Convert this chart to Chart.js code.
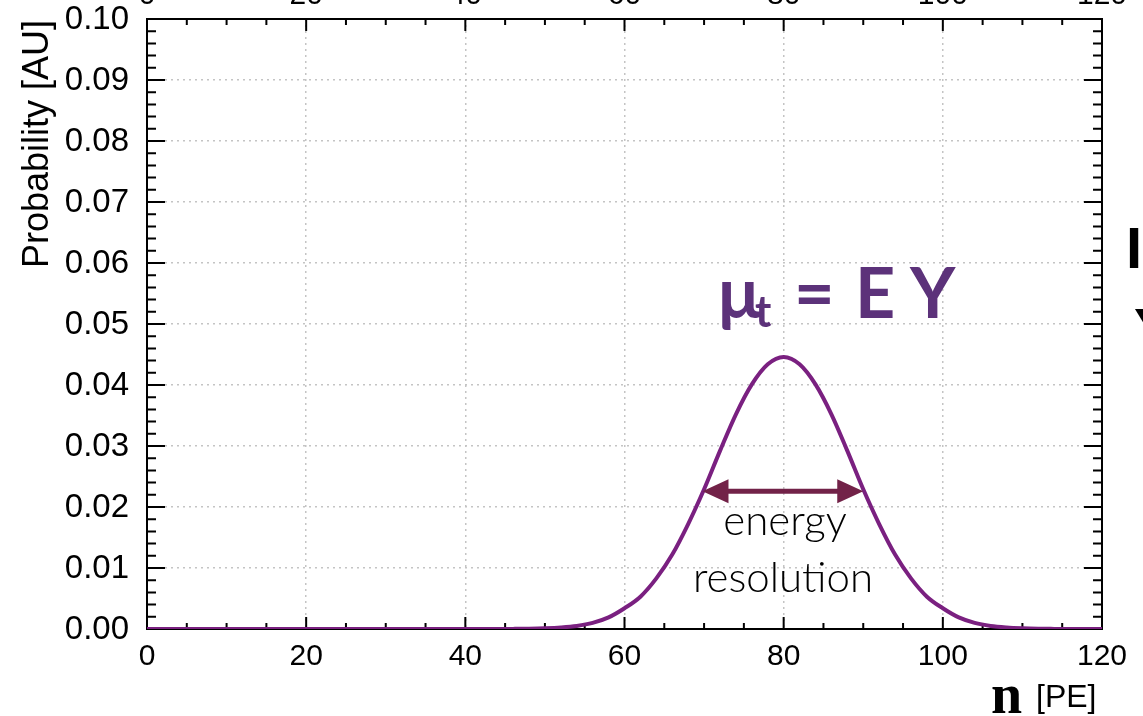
<!DOCTYPE html>
<html>
<head>
<meta charset="utf-8">
<script src="https://cdn.jsdelivr.net/npm/chart.js@4"></script>
<style>
  body { margin: 0; background: #fff; }
  canvas { display: block; }
</style>
</head>
<body>
<canvas id="myChart" width="1143" height="716"></canvas>
<script>
// values
const nValues = [0, 10, 20, 30, 36, 40, 44, 46, 48, 50, 52, 54, 56, 58, 60, 62, 64, 66, 68, 70, 72, 74, 76, 78,
  80, 82, 84, 86, 88, 90, 92, 94, 96, 98, 100, 102, 104, 106, 108, 110, 112, 114, 116, 120];
const probValues = [0, 0, 0, 0, 0, 0, 0.00001, 0.00002, 0.00005, 0.00012, 0.00025, 0.0005, 0.0010, 0.0019, 0.0034,
  0.0053, 0.0083, 0.0122, 0.0172, 0.0229, 0.0292, 0.0352, 0.0401, 0.0434,
  0.0446, 0.0434, 0.0401, 0.0352, 0.0292, 0.0229, 0.0172, 0.0122, 0.0083, 0.0053,
  0.0034, 0.0019, 0.0010, 0.0005, 0.00025, 0.00012, 0.00005, 0.00002, 0, 0];
const xTickLabels = ['0', '20', '40', '60', '80', '100', '120'];
const yTickLabels = ['0.00', '0.01', '0.02', '0.03', '0.04', '0.05', '0.06', '0.07', '0.08', '0.09', '0.10'];

// annotation arrow in data units
const arrowFrom = 69.8;
const arrowTo = 90.0;
const arrowLevel = 0.0226;

const purpleLine = '#7a2080';
const purpleText = '#5c327a';
const arrowColor = '#722248';

Chart.defaults.font.family = "'Liberation Sans', Arial, sans-serif";
Chart.defaults.color = '#000';

// frame + inward ticks, drawn under the curve
const framePlugin = {
  id: 'frame',
  beforeDatasetsDraw(chart) {
    const { ctx, chartArea: a, scales: { x, y } } = chart;
    ctx.save();
    ctx.strokeStyle = '#000';
    ctx.lineWidth = 2;
    ctx.strokeRect(a.left, a.top, a.right - a.left, a.bottom - a.top);

    ctx.beginPath();
    for (let v = 0; v <= 120; v += 5) {
      const px = x.getPixelForValue(v);
      const len = v % 20 === 0 ? 12 : 6;
      ctx.moveTo(px, a.bottom); ctx.lineTo(px, a.bottom - len);
      ctx.moveTo(px, a.top); ctx.lineTo(px, a.top + len);
    }
    for (let i = 0; i <= 50; i++) {
      const py = y.getPixelForValue(i * 0.002);
      const len = i % 5 === 0 ? 18 : 9;
      ctx.moveTo(a.left, py); ctx.lineTo(a.left + len, py);
      ctx.moveTo(a.right, py); ctx.lineTo(a.right - len, py);
    }
    ctx.stroke();
    ctx.restore();
  },
  afterDraw(chart) {
    const { ctx, chartArea: a, scales: { x, y } } = chart;
    ctx.save();
    ctx.fillStyle = '#000';

    // y tick labels
    ctx.font = "33px 'Liberation Sans'";
    ctx.textAlign = 'right';
    ctx.textBaseline = 'middle';
    yTickLabels.forEach(t => ctx.fillText(t, a.left - 18, y.getPixelForValue(Number(t)) + 1));

    // cut-off labels of an axis above the picture
    ctx.font = "30px 'Liberation Sans'";
    ctx.textAlign = 'center';
    ctx.textBaseline = 'alphabetic';
    xTickLabels.forEach(t => ctx.fillText(t, x.getPixelForValue(Number(t)), 4));

    // y axis title
    ctx.save();
    ctx.translate(48, 268);
    ctx.rotate(-Math.PI / 2);
    ctx.textAlign = 'left';
    ctx.font = "36px 'Liberation Sans'";
    ctx.fillText('Probability [AU]', 0, 0);
    ctx.restore();

    // x axis title
    ctx.textAlign = 'left';
    ctx.font = "bold 56px 'Liberation Serif'";
    ctx.fillText('n', 991, 713);
    ctx.font = "32px 'Liberation Sans'";
    ctx.fillText('[PE]', 1036, 707);

    // mu_t = E Y
    ctx.fillStyle = purpleText;
    ctx.font = "bold 70px Lato";
    ctx.fillText('\u03bc', 718, 318);
    ctx.font = "bold 44px Lato";
    ctx.fillText('t', 755, 327);
    ctx.font = "bold 70px Lato";
    ctx.fillText('=', 794, 318);
    ctx.fillText('E', 855, 318);
    ctx.fillText('Y', 910, 318);

    // energy resolution arrow
    const x1 = x.getPixelForValue(arrowFrom);
    const x2 = x.getPixelForValue(arrowTo);
    const ya = y.getPixelForValue(arrowLevel);
    ctx.fillStyle = arrowColor;
    ctx.strokeStyle = arrowColor;
    ctx.lineWidth = 5;
    ctx.beginPath();
    ctx.moveTo(x1 + 20, ya); ctx.lineTo(x2 - 20, ya);
    ctx.stroke();
    ctx.beginPath();
    ctx.moveTo(x1, ya); ctx.lineTo(x1 + 26, ya - 12); ctx.lineTo(x1 + 26, ya + 12); ctx.closePath();
    ctx.moveTo(x2, ya); ctx.lineTo(x2 - 26, ya - 12); ctx.lineTo(x2 - 26, ya + 12); ctx.closePath();
    ctx.fill();

    ctx.fillStyle = '#000';
    ctx.textAlign = 'center';
    ctx.font = "300 42px Lato";
    ctx.fillText('energy', 785, 535);
    ctx.fillText('resolution', 783, 592);

    // text cut off at the right edge
    ctx.textAlign = 'left';
    ctx.font = "bold 58px 'Liberation Sans'";
    ctx.fillText('I', 1126, 268);
    ctx.fillText('Y', 1134, 349);

    ctx.restore();
  }
};

const ctx = document.getElementById('myChart').getContext('2d');
const myChart = new Chart(ctx, {
  type: 'line',
  data: {
    datasets: [{
      data: nValues.map((n, i) => ({ x: n, y: probValues[i] })),
      borderColor: purpleLine,
      borderWidth: 4,
      pointRadius: 0,
      cubicInterpolationMode: 'monotone',
      fill: false
    }]
  },
  options: {
    responsive: false,
    animation: false,
    devicePixelRatio: 1,
    layout: { padding: { left: 0, top: 19, right: 41, bottom: 0 } },
    plugins: { legend: { display: false }, tooltip: { enabled: false } },
    scales: {
      x: {
        type: 'linear',
        min: 0,
        max: 120,
        afterFit(scale) { scale.height = 87; },
        afterBuildTicks(scale) {
          scale.ticks = xTickLabels.map(t => ({ value: Number(t) }));
        },
        ticks: {
          font: { size: 30 },
          padding: 10,
          maxRotation: 0,
          callback: v => String(v)
        },
        grid: { color: '#c4c4c4', lineWidth: 1.5, drawTicks: false },
        border: { display: false, dash: [2, 4] }
      },
      y: {
        min: 0,
        max: 0.1,
        afterFit(scale) { scale.width = 147; },
        afterBuildTicks(scale) {
          scale.ticks = yTickLabels.map(t => ({ value: Number(t) }));
        },
        ticks: { display: false },
        grid: { color: '#c4c4c4', lineWidth: 1.5, drawTicks: false },
        border: { display: false, dash: [2, 4] }
      }
    }
  },
  plugins: [framePlugin]
});
</script>
</body>
</html>
